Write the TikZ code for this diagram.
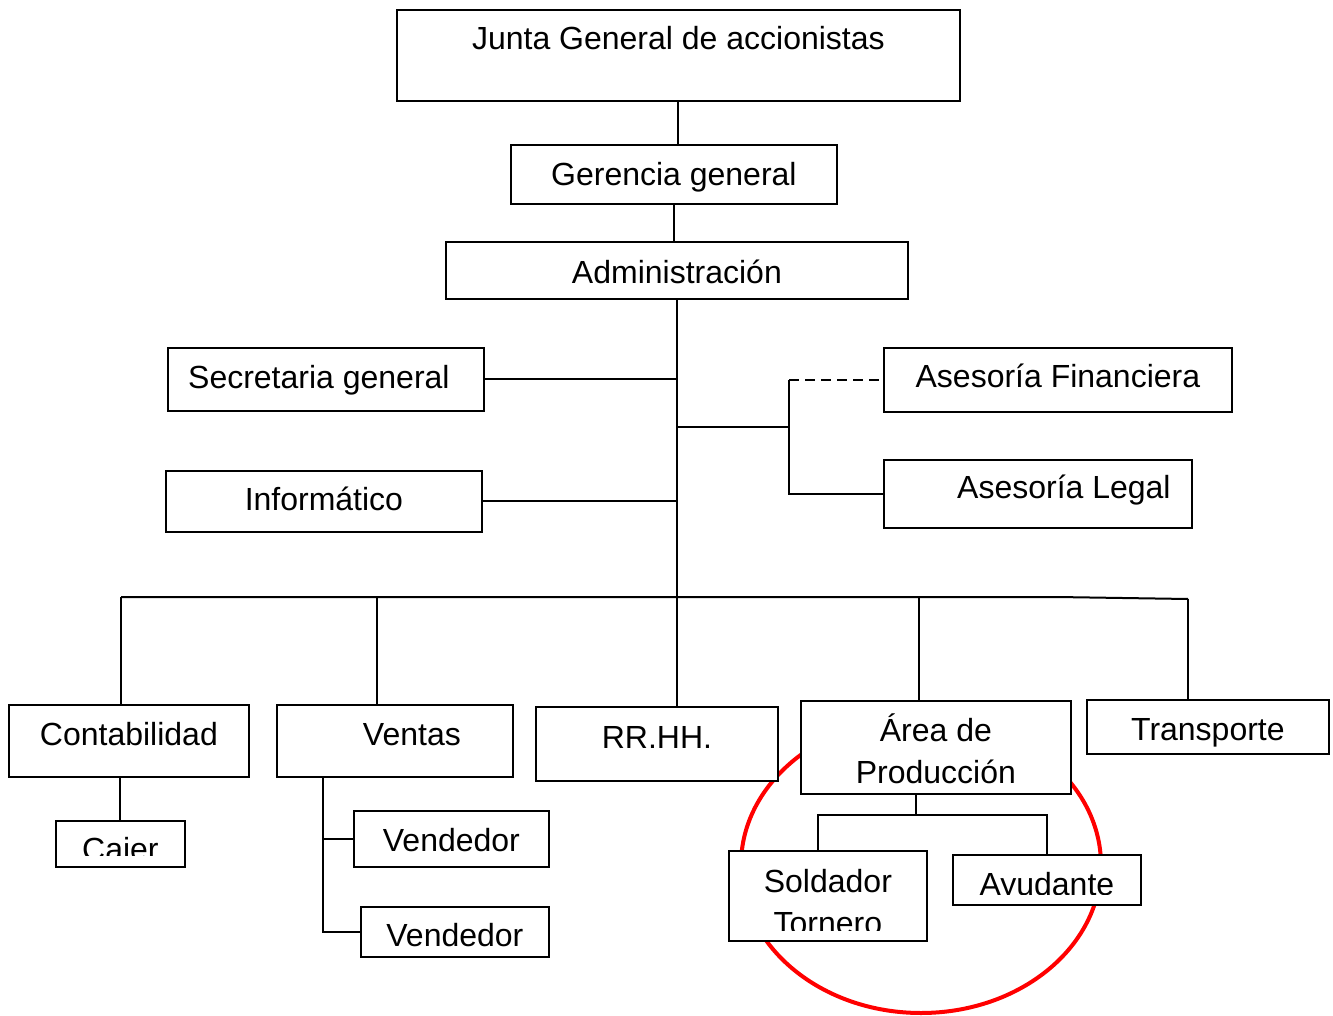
\documentclass[tikz,border=0pt]{standalone}
\usepackage{fontspec}
\setmainfont{Liberation Sans}

\begin{document}
\begin{tikzpicture}[x=1pt,y=-1pt,font=\fontsize{32}{42}\selectfont,
  caja/.style={draw,fill=white,line width=1.8pt,inner sep=0pt,anchor=north west,text height=23pt,text depth=0pt},
  linea/.style={line width=2pt},
  recorte/.style n args={3}{path picture={
    \clip (path picture bounding box.north west) rectangle ([yshift=#1]path picture bounding box.south east);
    \node[anchor=base,inner sep=0pt,align=center] at ([yshift=#2]path picture bounding box.south) {#3};}}]
  \useasboundingbox (0,0) rectangle (1333,1016);

  \draw[red,line width=4pt] (921,865) ellipse [x radius=180pt,y radius=148pt];

  \node[caja,minimum width=563,minimum height=91,text depth=34pt] (junta) at (396,9) {Junta General de accionistas};
  \node[caja,minimum width=326,minimum height=59] (gerencia) at (510,144) {Gerencia general};
  \node[caja,minimum width=462,minimum height=57,text height=27pt] (admin) at (445,241) {Administración};
  \node[caja,minimum width=316,minimum height=63,text depth=4pt] (secretaria) at (167,347) {Secretaria general\hspace*{14pt}};
  \node[caja,minimum width=316,minimum height=61,text depth=4pt] (informatico) at (165,470) {Informático};
  \node[caja,minimum width=348,minimum height=64,text depth=7pt] (financiera) at (883,347) {Asesoría Financiera};
  \node[caja,minimum width=308,minimum height=68,text depth=13pt] (legal) at (883,459) {\hspace*{52pt}Asesoría Legal};

  \node[caja,minimum width=240,minimum height=72,text depth=13pt] (contabilidad) at (8,704) {Contabilidad};
  \node[caja,minimum width=236,minimum height=72,text depth=13pt] (ventas) at (276,704) {\hspace*{34pt}Ventas};
  \node[caja,minimum width=242,minimum height=74,text depth=13pt] (rrhh) at (535,706) {RR.HH.};
  \node[caja,minimum width=270,minimum height=93,align=center,text height=73pt] (area) at (800,700) {Área de\\Producción};
  \node[caja,minimum width=242,minimum height=54,text height=28pt] (transporte) at (1086,699) {Transporte};

  \node[caja,minimum width=129,minimum height=46,recorte={11pt}{6pt}{Cajer}] (cajer) at (55,820) {};
  \node[caja,minimum width=195,minimum height=56,text height=26pt] (vendedorA) at (353,810) {Vendedor};
  \node[caja,minimum width=188,minimum height=50,recorte={9pt}{10pt}{Vendedor}] (vendedorB) at (360,906) {};
  \node[caja,minimum width=198,minimum height=90,recorte={10pt}{6pt}{Soldador\\Tornero}] (soldador) at (728,850) {};
  \node[caja,minimum width=188,minimum height=50,recorte={10pt}{9pt}{Ayudante}] (ayudante) at (952,854) {};

  % tronco principal
  \coordinate (rama) at (789,427);
  \coordinate (b1) at (121,597);
  \coordinate (b2) at (377,597);
  \coordinate (b3) at (677,597);
  \coordinate (b4) at (919,597);
  \coordinate (b5) at (1188,599);
  \draw[linea] (junta.south) -- (junta.south |- gerencia.north);
  \draw[linea] (gerencia.south) -- (gerencia.south |- admin.north);
  \draw[linea] (admin.south) -- (admin.south |- b3);
  \draw[linea] (secretaria.east) -- (secretaria.east -| admin.south);
  \draw[linea] (informatico.east) -- (informatico.east -| admin.south);
  \draw[linea] (admin.south |- rama) -- (rama);
  \draw[linea] (financiera.west -| rama) -- (legal.west -| rama) -- (legal.west);
  \draw[linea,dash pattern=on 10pt off 6pt] (financiera.west -| rama) -- (financiera.west);

  \draw[linea] (b1) -- (b4) -- (1057,597) -- (b5);
  \draw[linea] (b1) -- (b1 |- contabilidad.north);
  \draw[linea] (b2) -- (b2 |- ventas.north);
  \draw[linea] (b3) -- (b3 |- rrhh.north);
  \draw[linea] (b4) -- (b4 |- area.north);
  \draw[linea] (b5) -- (b5 |- transporte.north);

  % dependencias
  \coordinate (vt) at (323,776);
  \coordinate (p0) at (916,815);
  \coordinate (p1) at (818,815);
  \coordinate (p2) at (1047,815);
  \draw[linea] (cajer.north |- contabilidad.south) -- (cajer.north);
  \draw[linea] (vt) |- (vendedorB.west);
  \draw[linea] (vt |- vendedorA.west) -- (vendedorA.west);
  \draw[linea] (p0 |- area.south) -- (p0);
  \draw[linea] (p1 |- soldador.north) -- (p1) -- (p2) -- (p2 |- ayudante.north);
\end{tikzpicture}
\end{document}
